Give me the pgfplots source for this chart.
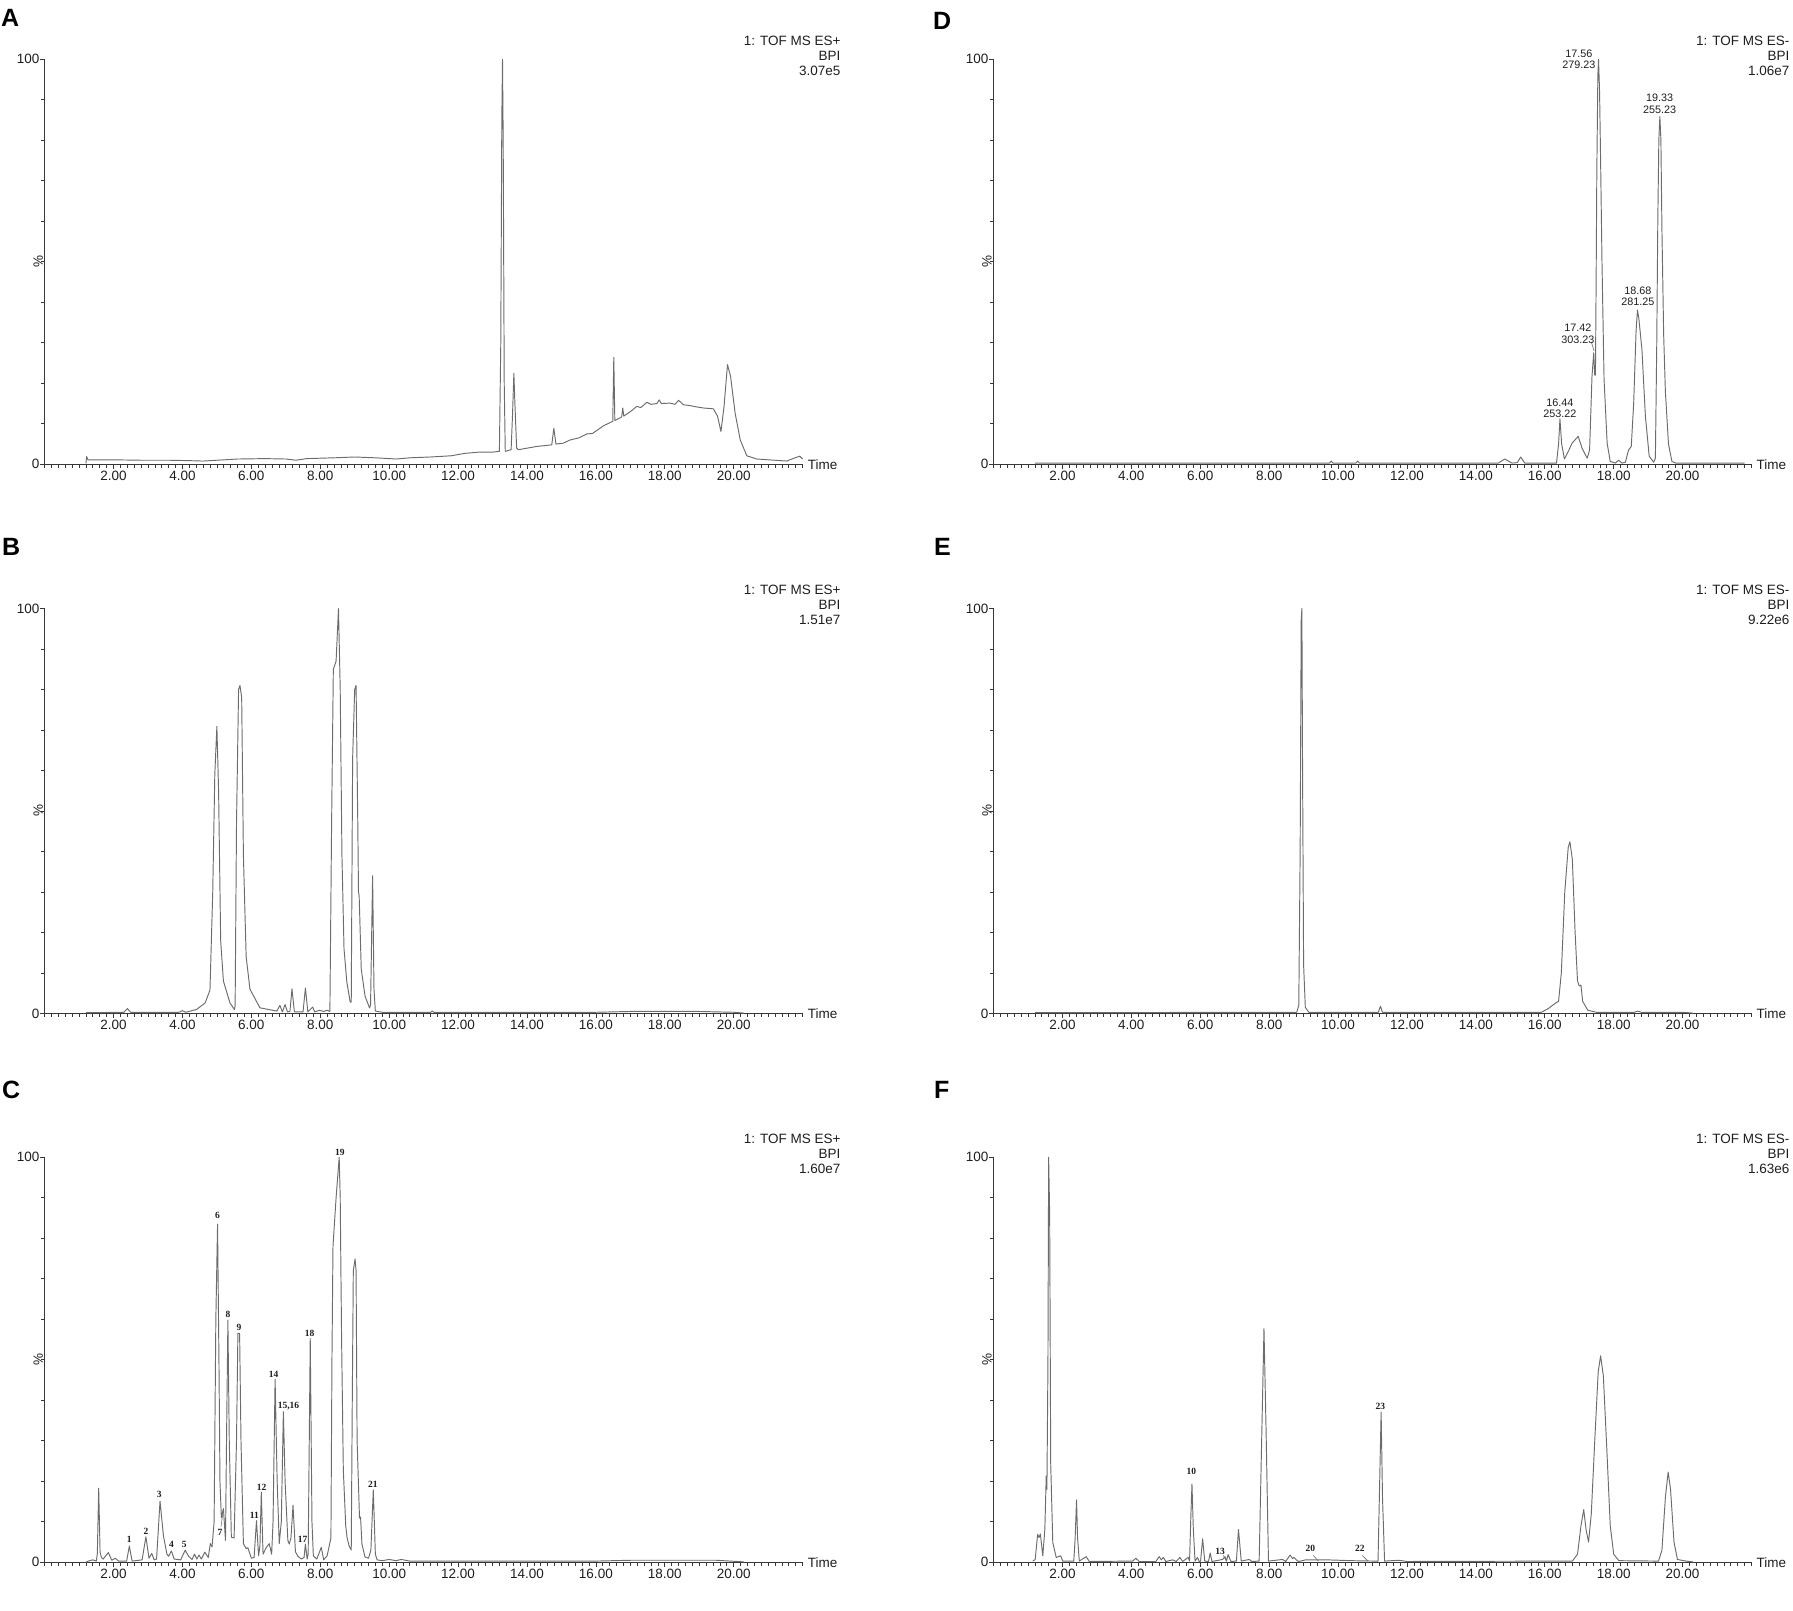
\documentclass[border=0pt]{standalone}
\usepackage{fontspec}
\setmainfont{Liberation Sans}
\newfontfamily\serifb{Liberation Serif}
\usepackage{pgfplots}
\pgfplotsset{compat=1.18}

\definecolor{tracec}{RGB}{108,108,108}
\definecolor{axisc}{RGB}{55,55,55}
\definecolor{textc}{RGB}{30,30,30}

\newcommand\tickfont{\fontsize{13.5}{16}\selectfont}
\newcommand\pkfont{\serifb\bfseries\fontsize{9.5}{11}\selectfont}
\newcommand\mzfont{\fontsize{10.8}{11.2}\selectfont}

\tikzset{tr/.style={draw=tracec, line width=0.95pt, mark=none, line join=round}}

\pgfplotsset{
  chrom/.style={
    scale only axis, width=758pt, height=405pt,
    anchor=south west,
    xmin=0, xmax=22, ymin=0, ymax=100,
    axis x line=bottom, axis y line=left,
    axis line style={-, draw=axisc, line width=1.2pt},
    xtick={2,4,...,20}, minor xtick={0,0.2,...,22},
    ytick={0,100}, minor ytick={10,20,...,90},
    tick align=outside, major tick length=4.5pt, minor tick length=3.5pt,
    tick style={draw=axisc, line width=0.7pt},
    /pgf/number format/assume math mode=true,
    ticklabel style={font=\tickfont, text=textc},
    xticklabel style={inner sep=2pt, /pgf/number format/.cd, fixed, fixed zerofill, precision=2},
    yticklabel style={inner sep=0.5pt},
    clip=false,
  }
}

% time label, % label and the header in the upper right
\newcommand\deco[2]{%
  \node[anchor=west, inner sep=0pt, font=\tickfont, text=textc] at ([xshift=5pt]rel axis cs:1,0) {Time};
  \node[rotate=90, anchor=south, inner sep=0pt, font=\tickfont, text=textc] at ([xshift=-1.5pt]rel axis cs:0,0.5) {\%};
  \node[anchor=base east, inner sep=0pt, font=\tickfont, text=textc] at ([xshift=38pt, yshift=13.5pt]rel axis cs:1,1) {1: TOF MS #1};
  \node[anchor=base east, inner sep=0pt, font=\tickfont, text=textc] at ([xshift=38pt, yshift=-1.5pt]rel axis cs:1,1) {BPI};
  \node[anchor=base east, inner sep=0pt, font=\tickfont, text=textc] at ([xshift=38pt, yshift=-16pt]rel axis cs:1,1) {#2};
}
\newcommand\pk[3]{\node[font=\pkfont, text=textc, inner sep=0pt] at (axis cs:#1,#2) {#3};}
\newcommand\mz[4]{\node[font=\mzfont, text=textc, inner sep=0pt, align=center] at (axis cs:#1,#2) {#3\\#4};}

\begin{document}
\begin{tikzpicture}[x=1pt,y=1pt]
\path[use as bounding box] (0,0) rectangle (1793,1611);

% panel letters
\node[anchor=base west, inner sep=0pt, font=\bfseries\fontsize{25}{25}\selectfont, text=black] at (1,1584) {A};
\node[anchor=base west, inner sep=0pt, font=\bfseries\fontsize{25}{25}\selectfont, text=black] at (2,1055) {B};
\node[anchor=base west, inner sep=0pt, font=\bfseries\fontsize{25}{25}\selectfont, text=black] at (2,512) {C};
\node[anchor=base west, inner sep=0pt, font=\bfseries\fontsize{25}{25}\selectfont, text=black] at (933,1581) {D};
\node[anchor=base west, inner sep=0pt, font=\bfseries\fontsize{25}{25}\selectfont, text=black] at (934,1055) {E};
\node[anchor=base west, inner sep=0pt, font=\bfseries\fontsize{25}{25}\selectfont, text=black] at (934,512) {F};

% ---------------- A ----------------
\begin{axis}[chrom, at={(44.6pt,1146.7pt)}]
\addplot[tr] coordinates {
(1.20,0.2)(1.22,1.9)(1.26,1.1)(2.0,1.1)(2.8,1.0)(3.6,1.0)(4.2,0.9)(4.6,0.8)(5.0,1.0)(5.6,1.3)
(6.4,1.4)(7.0,1.3)(7.3,1.0)(7.6,1.4)(8.4,1.6)(9.0,1.8)(9.6,1.6)(10.2,1.3)(10.6,1.6)(11.2,1.8)
(11.8,2.1)(12.2,2.7)(12.6,3.0)(13.0,3.0)(13.20,3.2)(13.24,30)(13.27,85)(13.29,100)(13.31,80)
(13.34,20)(13.37,3.2)(13.54,3.6)(13.58,12)(13.62,22.5)(13.65,15)(13.70,4)(13.75,3.6)(14.28,4.4)
(14.72,4.8)(14.78,8.9)(14.84,5.0)(15.05,5.2)(15.25,6.0)(15.5,6.5)(15.74,7.5)(15.9,7.6)(16.22,9.5)
(16.49,10.6)(16.52,26.4)(16.55,10.8)(16.75,11.7)(16.78,13.9)(16.81,11.9)(17.0,13.0)(17.19,14.3)
(17.3,14.0)(17.48,15.3)(17.6,14.8)(17.77,15.0)(17.84,15.9)(17.90,15.0)(18.15,15.1)(18.30,14.8)
(18.40,15.8)(18.54,14.7)(18.73,14.5)(18.9,14.2)(19.12,13.9)(19.41,13.7)(19.53,11.9)(19.63,8.1)
(19.72,14.3)(19.82,24.6)(19.91,21.7)(20.04,12.7)(20.19,6.0)(20.38,2.1)(20.67,1.3)(21.54,0.8)
(21.78,1.6)(21.92,2.0)(22.0,1.3)
};
\deco{ES+}{3.07e5}
\end{axis}

% ---------------- B ----------------
\begin{axis}[chrom, at={(44.6pt,597.5pt)}]
\addplot[tr] coordinates {
(1.2,0.2)(2.3,0.3)(2.4,1.2)(2.5,0.3)(3.9,0.3)(4.0,0.7)(4.1,0.3)(4.41,1.0)(4.66,2.6)(4.80,5.8)
(4.88,30)(4.94,59)(5.0,70.9)(5.05,55)(5.11,18)(5.19,8)(5.38,2.6)(5.51,1.0)(5.53,2)(5.57,47)
(5.63,80)(5.67,81)(5.72,78)(5.77,39)(5.85,14)(5.96,6)(6.25,1.4)(6.74,0.6)(6.83,2)(6.90,0.4)
(6.98,2.2)(7.05,0.4)(7.12,0.5)(7.18,6.1)(7.25,0.4)(7.50,0.4)(7.57,6.3)(7.64,0.4)(7.78,1.6)(7.84,0.4)
(7.98,0.8)(8.10,0.5)(8.20,0.8)(8.28,0.5)(8.33,47)(8.38,85)(8.46,87)(8.53,100)(8.58,80)(8.63,39)
(8.69,16)(8.77,7.9)(8.87,2.8)(8.90,2.8)(8.94,63)(9.0,80)(9.04,81)(9.09,47)(9.11,30)(9.13,29)
(9.15,23)(9.19,11)(9.30,4.3)(9.43,1.4)(9.46,2)(9.52,34)(9.56,6)(9.60,0.6)(9.8,0.3)(11.2,0.3)
(11.25,0.6)(11.3,0.3)(16.0,0.3)(17.0,0.5)(19.0,0.5)(20.0,0.3)(20.3,0.1)
};
\deco{ES+}{1.51e7}
\end{axis}

% ---------------- C ----------------
\begin{axis}[chrom, at={(44.6pt,48.7pt)}]
\addplot[tr] coordinates {
(1.2,0)(1.27,0.3)(1.4,0.6)(1.5,0.3)(1.53,2)(1.57,18.3)(1.61,2.5)(1.65,1.2)(1.70,0.8)(1.85,2.4)
(1.95,0.5)(2.05,1)(2.15,0.3)(2.38,0.3)(2.46,4)(2.54,0.3)(2.83,0.6)(2.94,6.3)(3.03,1.0)(3.11,2.2)
(3.18,0.6)(3.25,0.8)(3.35,15.1)(3.45,6.5)(3.55,2.0)(3.6,1.5)(3.68,2.8)(3.76,0.8)(3.95,0.6)(4.08,3)
(4.18,1.5)(4.28,0.7)(4.35,2.0)(4.42,0.8)(4.48,1.8)(4.55,0.8)(4.65,2.5)(4.75,1.2)(4.81,4.6)(4.86,3.8)
(4.92,10)(4.97,60)(5.02,83.5)(5.06,50)(5.09,20)(5.13,11)(5.19,13.3)(5.25,5.4)(5.28,30)(5.32,59.8)
(5.36,30)(5.42,6.2)(5.50,6)(5.57,30)(5.61,56.5)(5.66,56.5)(5.70,30)(5.77,4.6)(5.85,3.4)(5.90,3.6)
(6.0,1.0)(6.08,1.2)(6.15,10.3)(6.21,1.6)(6.25,4)(6.29,17.3)(6.34,2)(6.43,3.6)(6.52,4.6)(6.59,2)
(6.63,10)(6.69,45.2)(6.75,20)(6.81,4.6)(6.87,10)(6.93,37.2)(6.98,20)(7.06,5.4)(7.10,4.5)(7.15,6)
(7.21,14.1)(7.28,2.6)(7.35,1.5)(7.45,0.8)(7.53,1.2)(7.57,4.5)(7.62,0.8)(7.65,2)(7.71,55.3)(7.76,10)
(7.80,1.6)(7.90,0.8)(8.03,3.7)(8.10,0.6)(8.20,1.6)(8.31,6)(8.34,50)(8.37,78)(8.46,90)(8.55,100)
(8.58,90)(8.60,72)(8.62,55)(8.67,22.8)(8.74,9)(8.78,6)(8.84,4)(8.90,3)(8.93,40)(8.96,72)(9.01,74.9)
(9.04,72)(9.07,30)(9.14,10.9)(9.17,11.2)(9.21,4.5)(9.30,1.3)(9.40,1)(9.47,3)(9.54,17.9)(9.60,2)
(9.65,0.6)(9.8,0.4)(10.0,0.7)(10.2,0.4)(10.35,0.7)(10.6,0.3)(16,0.3)(17,0.5)(19.5,0.5)(20.3,0.1)
};
\draw[draw=tracec, line width=0.6pt] (axis cs:5.12,8.8) -- (axis cs:5.18,12.5);
\pk{2.46}{5.7}{1}\pk{2.94}{7.7}{2}\pk{3.33}{16.8}{3}\pk{3.68}{4.4}{4}\pk{4.05}{4.4}{5}
\pk{5.02}{85.6}{6}\pk{5.09}{7.4}{7}\pk{5.32}{61.3}{8}\pk{5.64}{58}{9}\pk{6.09}{11.6}{11}
\pk{6.30}{18.6}{12}\pk{6.65}{46.4}{14}\pk{7.08}{38.6}{15,16}\pk{7.49}{5.7}{17}\pk{7.69}{56.6}{18}
\pk{8.57}{101.2}{19}\pk{9.53}{19.3}{21}
\deco{ES+}{1.60e7}
\end{axis}

% ---------------- D ----------------
\begin{axis}[chrom, at={(993.5pt,1146.7pt)}]
\addplot[tr] coordinates {
(1.2,0.3)(9.75,0.3)(9.8,0.8)(9.85,0.3)(10.52,0.3)(10.57,0.8)(10.62,0.3)(14.65,0.3)(14.84,1.3)
(15.05,0.3)(15.2,0.4)(15.30,1.8)(15.42,0.3)(16.34,0.3)(16.40,5)(16.44,11.2)(16.49,5)(16.57,1.3)
(16.70,3.5)(16.79,5.2)(16.97,6.9)(17.08,4.0)(17.23,1.5)(17.30,3.5)(17.37,21.7)(17.42,27.5)(17.45,22)
(17.47,22)(17.49,45)(17.51,72)(17.54,96)(17.56,100)(17.59,92)(17.62,75)(17.66,50)(17.72,21)(17.81,5.2)
(17.90,0.7)(18.05,0.3)(18.14,1.0)(18.24,0.3)(18.34,0.5)(18.43,3.5)(18.51,4.4)(18.58,15.1)(18.65,33)
(18.69,38.1)(18.73,36)(18.82,28.3)(18.92,11.9)(19.03,2)(19.16,0.5)(19.21,1.5)(19.25,30)(19.28,60)
(19.31,80)(19.34,85.9)(19.37,80)(19.40,58)(19.45,32)(19.50,18)(19.59,5)(19.69,0.7)(19.8,0.3)(21.8,0.3)
};
\draw[draw=tracec, line width=0.6pt] (axis cs:17.35,30.2) -- (axis cs:17.43,28);
\mz{16.99}{100}{17.56}{279.23}
\mz{19.33}{89}{19.33}{255.23}
\mz{18.70}{41.4}{18.68}{281.25}
\mz{16.96}{32.2}{17.42}{303.23}
\mz{16.44}{13.8}{16.44}{253.22}
\deco{ES-}{1.06e7}
\end{axis}

% ---------------- E ----------------
\begin{axis}[chrom, at={(993.5pt,597.5pt)}]
\addplot[tr] coordinates {
(1.2,0.2)(8.80,0.3)(8.86,2)(8.90,40)(8.93,97)(8.95,100)(8.97,60)(9.0,12)(9.05,1.5)(9.15,0.3)
(11.17,0.3)(11.23,1.8)(11.29,0.3)(15.9,0.3)(16.1,1.2)(16.3,2.5)(16.4,3)(16.48,10)(16.58,30)
(16.68,41)(16.73,42.4)(16.80,38)(16.88,20)(16.95,8)(17.0,6.8)(17.05,7)(17.1,3)(17.25,0.8)(17.5,0.3)
(18.6,0.3)(18.7,0.6)(18.8,0.3)(20,0.3)(20.3,0.1)
};
\deco{ES-}{9.22e6}
\end{axis}

% ---------------- F ----------------
\begin{axis}[chrom, at={(993.5pt,48.7pt)}]
\addplot[tr] coordinates {
(1.14,0.3)(1.21,0.7)(1.28,6.9)(1.32,6.1)(1.36,7.0)(1.43,1.6)(1.49,8.1)(1.53,21.3)(1.55,18)(1.58,49.3)
(1.60,100)(1.63,86)(1.66,24.5)(1.72,4.9)(1.82,1.2)(1.95,1.6)(2.01,0.3)(2.33,0.3)(2.37,6)(2.41,15.4)
(2.44,6)(2.49,0.3)(2.69,1.4)(2.78,0.2)(4.04,0.3)(4.13,1.0)(4.23,0.2)(4.71,0.2)(4.81,1.4)(4.87,0.6)
(4.93,1.2)(5.0,0.2)(5.2,0.6)(5.3,0.2)(5.41,1.2)(5.49,0.2)(5.65,1.2)(5.69,0.3)(5.73,12)(5.76,19.3)
(5.80,8)(5.85,0.3)(5.92,1.2)(5.97,0.2)(6.01,0.3)(6.07,5.8)(6.13,0.3)(6.24,0.2)(6.29,2.3)(6.34,0.2)
(6.65,0.7)(6.72,1.4)(6.76,0.3)(6.81,1.9)(6.89,0.2)(7.05,0.3)(7.11,8.1)(7.19,0.3)(7.42,0.7)(7.50,0.2)
(7.71,0.3)(7.79,33)(7.85,57.7)(7.91,33)(7.98,0.3)(8.39,0.7)(8.48,0.2)(8.61,1.8)(8.68,0.9)(8.72,1.2)
(8.79,0.6)(8.85,0.2)(9.06,0.6)(9.69,0.6)(10.4,0.4)(11.09,0.3)(11.16,0.3)(11.20,16.5)(11.25,37.1)
(11.29,16)(11.35,0.3)(11.77,0.5)(12.0,0.2)(16.8,0.3)(16.95,2)(17.05,9)(17.13,13)(17.2,8)(17.27,5)
(17.35,12)(17.45,30)(17.55,47)(17.62,51)(17.70,46)(17.80,28)(17.9,9)(18.0,2)(18.15,0.4)(19.3,0.3)
(19.4,3)(19.5,16)(19.58,22.3)(19.65,18)(19.75,5)(19.85,0.7)(20.1,0.3)(20.3,0.1)
};
\draw[draw=tracec, line width=0.6pt] (axis cs:6.67,1.7) -- (axis cs:6.76,0.3);
\draw[draw=tracec, line width=0.6pt] (axis cs:9.28,1.7) -- (axis cs:9.43,0.3);
\draw[draw=tracec, line width=0.6pt] (axis cs:10.70,1.7) -- (axis cs:10.87,0.3);
\pk{5.74}{22.5}{10}\pk{6.58}{2.8}{13}\pk{9.2}{3.5}{20}\pk{10.63}{3.5}{22}\pk{11.23}{38.6}{23}
\deco{ES-}{1.63e6}
\end{axis}
\end{tikzpicture}
\end{document}
